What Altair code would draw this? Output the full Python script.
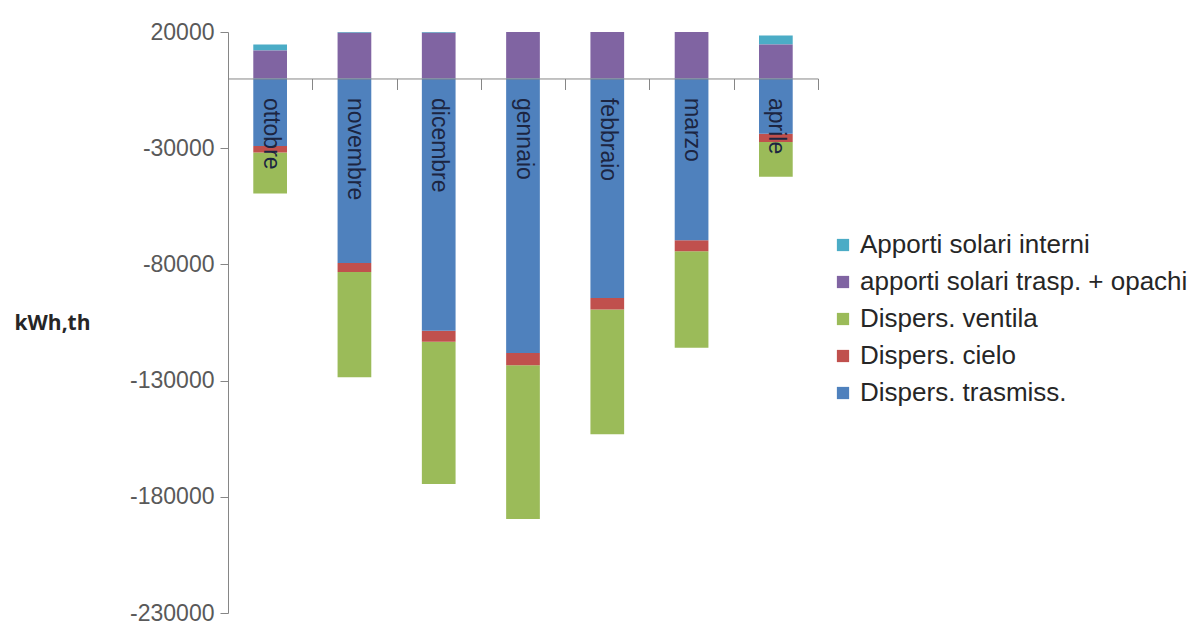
import altair as alt
import pandas as pd

months = ["ottobre", "novembre", "dicembre", "gennaio", "febbraio", "marzo", "aprile"]
series = ["Apporti solari interni", "apporti solari trasp. + opachi",
          "Dispers. ventila", "Dispers. cielo", "Dispers. trasmiss."]
colors = ["#4bacc6", "#8064a2", "#9bbb59", "#c0504d", "#4f81bd"]

apporti_interni = [2600, 300, 300, 0, 0, 0, 3900]
apporti_trasp_opachi = [12000, 19700, 19700, 20000, 20000, 20000, 14600]
dispers_ventila = [-17700, -45300, -61200, -66200, -53700, -41600, -15000]
dispers_cielo = [-2800, -3900, -4700, -5300, -4900, -4700, -3500]
dispers_trasmiss = [-29000, -79400, -108600, -118100, -94500, -69600, -23800]

y_ticks = [20000, -30000, -80000, -130000, -180000, -230000]

values_by_series = {
    "Apporti solari interni": apporti_interni,
    "apporti solari trasp. + opachi": apporti_trasp_opachi,
    "Dispers. ventila": dispers_ventila,
    "Dispers. cielo": dispers_cielo,
    "Dispers. trasmiss.": dispers_trasmiss,
}
stack_order = {
    "Dispers. trasmiss.": 1,
    "Dispers. cielo": 2,
    "Dispers. ventila": 3,
    "apporti solari trasp. + opachi": 4,
    "Apporti solari interni": 5,
}

rows = []
for s, vals in values_by_series.items():
    for m, v in zip(months, vals):
        rows.append({"mese": m, "serie": s, "valore": v, "ord": stack_order[s]})
df = pd.DataFrame(rows)

W, H = 590, 581
step = W / 7
zero_px = H * 20000 / 250000

chart = alt.Chart(df).mark_bar().encode(
    x=alt.X("mese:N", sort=months, title=None,
            scale=alt.Scale(paddingInner=0.6, paddingOuter=0.3),
            axis=alt.Axis(orient="bottom", offset=zero_px - H, zindex=1,
                          domainColor="#868686", tickColor="#868686",
                          tickSize=11, tickOffset=step / 2, labelOffset=-step / 2,
                          labelAngle=90, labelAlign="left", labelBaseline="middle",
                          labelPadding=8, labelFont="Liberation Sans",
                          labelFontSize=23, labelColor="#1c2541", grid=False,
                          labelOverlap=False)),
    y=alt.Y("valore:Q", stack="zero",
            scale=alt.Scale(domain=[-230000, 20000], nice=False, zero=False),
            axis=alt.Axis(values=y_ticks, format="d", grid=False,
                          labelExpr="replace(datum.label, '\u2212', '-')",
                          domainColor="#868686", tickColor="#868686", tickSize=8,
                          labelFont="Liberation Sans", labelFontSize=23,
                          labelColor="#595959", labelPadding=6,
                          title="kWh,th", titleAngle=0, titleAlign="left",
                          titleBaseline="middle", titleX=-214, titleY=291,
                          titleFont="Open Sans", titleFontWeight="bold",
                          titleFontSize=21, titleColor="#262626")),
    color=alt.Color("serie:N",
                    scale=alt.Scale(domain=series, range=colors),
                    legend=alt.Legend(title=None, orient="none",
                                      legendX=602, legendY=200,
                                      symbolType="square", symbolSize=150,
                                      symbolStrokeWidth=0, labelOffset=4,
                                      labelFont="Liberation Sans", labelFontSize=26,
                                      labelColor="#262626", rowPadding=11,
                                      labelLimit=500)),
    order=alt.Order("ord:Q", sort="ascending"),
).properties(
    width=W, height=H,
    autosize=alt.AutoSizeParams(type="none"),
    padding={"left": 228, "top": 32, "right": 1192 - 228 - W, "bottom": 626 - 32 - H},
).configure_view(stroke=None)

chart.save("out.html", embed_options={"renderer": "svg", "actions": False})
